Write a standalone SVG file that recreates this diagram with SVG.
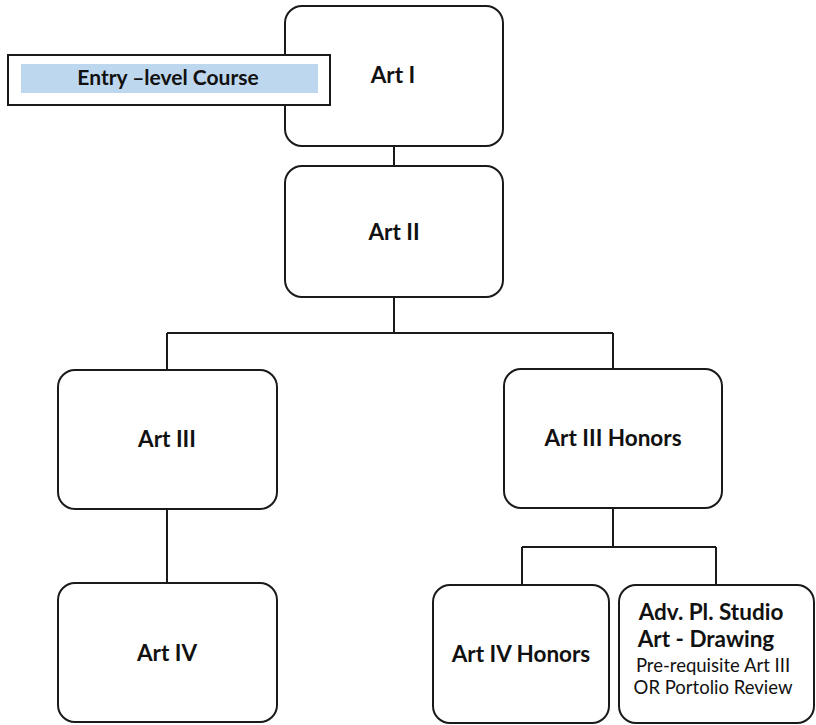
<svg xmlns="http://www.w3.org/2000/svg" width="816" height="725" viewBox="0 0 816 725">
  <style>
    .box { fill: #ffffff; stroke: #1a1a1a; stroke-width: 2; }
    .link { fill: none; stroke: #1a1a1a; stroke-width: 2; }
    .title { font-family: Lato, "Open Sans", "Liberation Sans", sans-serif; font-weight: 700; font-size: 22.5px; fill: #111111; text-anchor: middle; }
    .note { font-family: Lato, "Open Sans", "Liberation Sans", sans-serif; font-weight: 400; font-size: 18.5px; fill: #111111; text-anchor: middle; }
  </style>
  <rect width="816" height="725" fill="#ffffff"/>

  <!-- connectors -->
  <g id="connectors">
    <path class="link" d="M394 146 V166"/>
    <path class="link" d="M394 297 V333 M167 333 H613 M167 333 V370 M613 333 V369"/>
    <path class="link" d="M167 509 V583"/>
    <path class="link" d="M613 508 V547 M522 547 H716 M522 547 V585 M716 547 V585"/>
  </g>

  <g id="art1">
    <rect class="box" x="285" y="6" width="218" height="140" rx="17"/>
    <text class="title" x="393" y="83">Art I</text>
  </g>

  <g id="entry-level">
    <rect x="8" y="55" width="322" height="50" fill="#ffffff" stroke="#1a1a1a" stroke-width="2"/>
    <rect x="21" y="64" width="297" height="29" fill="#bdd7ee"/>
    <text class="title" x="168" y="85" style="font-size:21px">Entry –level Course</text>
  </g>

  <g id="art2">
    <rect class="box" x="285" y="166" width="218" height="131" rx="17"/>
    <text class="title" x="394" y="240">Art II</text>
  </g>

  <g id="art3">
    <rect class="box" x="58" y="370" width="219" height="139" rx="17"/>
    <text class="title" x="167" y="447">Art III</text>
  </g>

  <g id="art3-honors">
    <rect class="box" x="504" y="369" width="218" height="139" rx="17"/>
    <text class="title" x="613" y="446">Art III Honors</text>
  </g>

  <g id="art4">
    <rect class="box" x="58" y="583" width="219" height="139" rx="17"/>
    <text class="title" x="167" y="661">Art IV</text>
  </g>

  <g id="art4-honors">
    <rect class="box" x="433" y="585" width="176" height="138" rx="17"/>
    <text class="title" x="521" y="662">Art IV Honors</text>
  </g>

  <g id="adv-studio-drawing">
    <rect class="box" x="619" y="585" width="195" height="138" rx="17"/>
    <text class="title" x="711" y="620">Adv. Pl. Studio</text>
    <text class="title" x="706" y="647">Art - Drawing</text>
    <text class="note" x="713" y="672">Pre-requisite Art III</text>
    <text class="note" x="713" y="694">OR Portolio Review</text>
  </g>
</svg>
